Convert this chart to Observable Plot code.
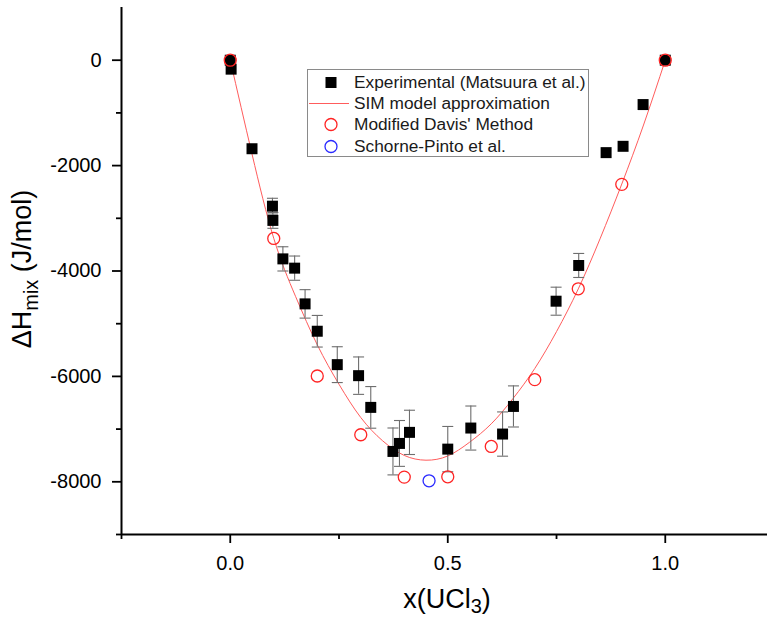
<!DOCTYPE html>
<html>
<head>
<meta charset="utf-8">
<script src="https://cdn.jsdelivr.net/npm/d3@7"></script>
<script src="https://cdn.jsdelivr.net/npm/@observablehq/plot@0.6"></script>
<style>
  html, body { margin: 0; padding: 0; background: #fff; }
  #wrap { position: relative; width: 767px; height: 619px; overflow: hidden; }
  #legend { position: absolute; left: 307px; top: 69px; width: 282px; height: 88px;
    border: 1px solid #8a8a8a; background: #fff; box-sizing: border-box;
    font-family: "Liberation Sans", Arial, sans-serif; font-size: 17.3px; color: #1a1a1a; }
  .row { position: absolute; left: 0; height: 21px; display: flex; align-items: center; white-space: nowrap; }
  .row svg { width: 46px; height: 21px; flex: none; }
</style>
</head>
<body>
<div id="wrap"></div>
<script>
// ---- data ----
const expX   = [0, 0.002, 0.05, 0.097, 0.098, 0.121, 0.148, 0.172, 0.2, 0.246, 0.295, 0.323, 0.374, 0.389, 0.412, 0.5, 0.553, 0.626, 0.651, 0.749, 0.801, 0.864, 0.903, 0.949, 1.0];
const expY   = [0, -170, -1680, -2770, -3040, -3770, -3946, -4624, -5143, -5777, -5986, -6588, -7424, -7272, -7062, -7380, -6980, -7094, -6570, -4573, -3895, -1754, -1634, -842, 0];
const expErr = [0, 0, 0, 150, 150, 230, 230, 270, 300, 340, 355, 395, 445, 435, 420, 430, 418, 420, 390, 266, 228, 0, 0, 0, 0];

const davisX = [0, 0.1, 0.2, 0.3, 0.4, 0.5, 0.6, 0.7, 0.8, 0.9, 1.0];
const davisY = [0, -3382, -5992, -7107, -7911, -7905, -7329, -6062, -4338, -2356, 0];

const schorneX = [0.457];
const schorneY = [-7981];

const simX = [0, 0.05, 0.1, 0.15, 0.2, 0.25, 0.3, 0.35, 0.4, 0.45, 0.5, 0.55, 0.6, 0.65, 0.7, 0.75, 0.8, 0.85, 0.9, 0.95, 1.0];
const simY = [0, -1780, -3380, -4480, -5400, -6150, -6780, -7220, -7500, -7590, -7510, -7250, -6900, -6420, -5850, -5150, -4340, -3390, -2350, -1230, 0];

const xMajor = [0, 0.5, 1.0];
const xMinor = [-0.25, 0.25, 0.75];
const yMajor = [0, -2000, -4000, -6000, -8000];
const yMinor = [-1000, -3000, -5000, -7000, -9000];

const legendLabels = ["Experimental (Matsuura et al.)", "SIM model approximation", "Modified Davis' Method", "Schorne-Pinto et al."];

// ---- tables ----
const exp = expX.map((x, i) => ({x, y: expY[i], e: expErr[i]}));
const errs = exp.filter(d => d.e > 0);
const caps = errs.flatMap(d => [{x: d.x, y: d.y + d.e}, {x: d.x, y: d.y - d.e}]);
const davis = davisX.map((x, i) => ({x, y: davisY[i]}));
const schorne = schorneX.map((x, i) => ({x, y: schorneY[i]}));
const sim = simX.map((x, i) => ({x, y: simY[i]}));

const capSymbol = {
  draw(context, size) {
    const w = Math.sqrt(size / Math.PI);
    context.moveTo(-w, 0);
    context.lineTo(w, 0);
  }
};

const RED = "#ff2424", BLUE = "#2a2aff", CURVE = "#ff5c5c", ERR = "#6e6e6e";

const chart = Plot.plot({
  width: 767, height: 619,
  marginLeft: 121, marginRight: 0, marginTop: 7, marginBottom: 85,
  x: {domain: [-0.25, 1.235]},
  y: {domain: [-9000, 1000]},
  style: {fontFamily: "'Liberation Sans', Arial, sans-serif", fontSize: "20px", color: "black", background: "white"},
  marks: [
    Plot.line(sim, {x: "x", y: "y", stroke: CURVE, strokeWidth: 1, curve: "natural"}),
    Plot.ruleX(errs, {x: "x", y1: d => d.y - d.e, y2: d => d.y + d.e, stroke: ERR, strokeWidth: 1.1}),
    Plot.dot(caps, {x: "x", y: "y", symbol: capSymbol, r: 5.5, stroke: ERR, fill: "none", strokeWidth: 1.1}),
    Plot.dot(exp, {x: "x", y: "y", symbol: "square", r: 6.2, fill: "black", stroke: "none"}),
    Plot.dot(davis, {x: "x", y: "y", r: 6, stroke: RED, strokeWidth: 1.3, fill: "none"}),
    Plot.dot(schorne, {x: "x", y: "y", r: 6, stroke: BLUE, strokeWidth: 1.3, fill: "none"}),
    Plot.axisX({ticks: xMajor, tickSize: 9, tickPadding: 12, tickFormat: d3.format(".1f"), label: null, fontSize: 20, strokeWidth: 1.8}),
    Plot.axisX({ticks: xMinor, tickSize: 5, tickFormat: () => "", label: null, strokeWidth: 1.8}),
    Plot.axisY({ticks: yMajor, tickSize: 9, tickPadding: 11, tickFormat: d => String(d), label: null, fontSize: 20, strokeWidth: 1.8}),
    Plot.axisY({ticks: yMinor, tickSize: 5, tickFormat: () => "", label: null, strokeWidth: 1.8}),
    Plot.ruleX([-0.25], {stroke: "black", strokeWidth: 2}),
    Plot.ruleY([-9000], {stroke: "black", strokeWidth: 2})
  ]
});

const svg = d3.select(chart);
// y title
const yt = svg.append("text")
  .attr("transform", "translate(31,269) rotate(-90)")
  .attr("text-anchor", "middle")
  .style("font-size", "27px").attr("fill", "black");
yt.append("tspan").text("ΔH");
yt.append("tspan").attr("dy", 7).style("font-size", "20px").text("mix");
yt.append("tspan").attr("dy", -7).text(" (J/mol)");
// x title
const xt = svg.append("text")
  .attr("transform", "translate(447,608)")
  .attr("text-anchor", "middle")
  .style("font-size", "27px").attr("fill", "black");
xt.append("tspan").text("x(UCl");
xt.append("tspan").attr("dy", 5).style("font-size", "20px").text("3");
xt.append("tspan").attr("dy", -5).text(")");

const wrap = document.getElementById("wrap");
wrap.appendChild(chart);

// legend
const legend = document.createElement("div");
legend.id = "legend";
const symbols = [
  `<rect x="17.5" y="5" width="11" height="11" fill="black"/>`,
  `<line x1="1" x2="41" y1="10.5" y2="10.5" stroke="${CURVE}" stroke-width="1"/>`,
  `<circle cx="23" cy="10.5" r="6" fill="none" stroke="${RED}" stroke-width="1.3"/>`,
  `<circle cx="23" cy="10.5" r="6" fill="none" stroke="${BLUE}" stroke-width="1.3"/>`
];
legendLabels.forEach((lab, i) => {
  const row = document.createElement("div");
  row.className = "row";
  row.style.top = (2 + i * 21.2) + "px";
  row.innerHTML = `<svg viewBox="0 0 46 21">${symbols[i]}</svg><span>${lab}</span>`;
  legend.appendChild(row);
});
wrap.appendChild(legend);
</script>
</body>
</html>
